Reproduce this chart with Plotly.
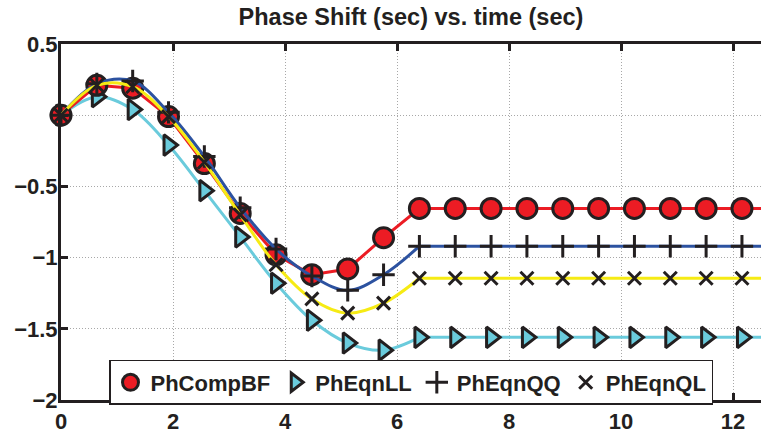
import plotly.graph_objects as go

# Sample times (sec) and phase shift (sec) for each method
t = [0.0, 0.64, 1.28, 1.92, 2.56, 3.2, 3.84, 4.48, 5.12, 5.76, 6.4,
     7.04, 7.68, 8.32, 8.96, 9.6, 10.24, 10.88, 11.52, 12.16, 12.57]

ph_comp_bf = [0.0, 0.21, 0.19, -0.01, -0.34, -0.69, -0.98, -1.12, -1.08, -0.86, -0.655,
              -0.655, -0.655, -0.655, -0.655, -0.655, -0.655, -0.655, -0.655, -0.655, -0.655]
ph_eqn_ll = [0.0, 0.13, 0.04, -0.21, -0.53, -0.855, -1.18, -1.44, -1.60, -1.65, -1.56,
             -1.56, -1.56, -1.56, -1.56, -1.56, -1.56, -1.56, -1.56, -1.56, -1.56]
ph_eqn_qq = [0.0, 0.22, 0.24, 0.02, -0.29, -0.65, -0.94, -1.13, -1.23, -1.12, -0.92,
             -0.92, -0.92, -0.92, -0.92, -0.92, -0.92, -0.92, -0.92, -0.92, -0.92]
ph_eqn_ql = [0.0, 0.21, 0.20, -0.01, -0.33, -0.70, -1.05, -1.29, -1.39, -1.32, -1.145,
             -1.145, -1.145, -1.145, -1.145, -1.145, -1.145, -1.145, -1.145, -1.145, -1.145]

y_tick_vals = [-2, -1.5, -1, -0.5, 0, 0.5]
y_tick_text = ["\u22122", "\u22121.5", "\u22121", "\u22120.5", "", "0.5"]
x_tick_vals = [0, 2, 4, 6, 8, 10, 12]

INK = "#231F20"
RED = "#EC1C24"
CYAN = "#6ACBDC"
BLUE = "#2C52A0"
YELLOW = "#F6EB14"
FONT = "Liberation Sans"

SETTLE = 10  # index where every curve reaches its steady value
X_MAX = 12.5  # visible end of the time axis

fig = go.Figure()


def add_curve(y, color, smooth):
    """Draw one series' line: smooth transient part, straight steady part."""
    if smooth:
        fig.add_trace(go.Scatter(x=t[:SETTLE + 1], y=y[:SETTLE + 1], mode="lines",
                                 line=dict(color=color, width=3, shape="spline", smoothing=1),
                                 showlegend=False, hoverinfo="skip"))
        fig.add_trace(go.Scatter(x=t[SETTLE:], y=y[SETTLE:], mode="lines",
                                 line=dict(color=color, width=3),
                                 showlegend=False, hoverinfo="skip"))
    else:
        fig.add_trace(go.Scatter(x=t, y=y, mode="lines",
                                 line=dict(color=color, width=3),
                                 showlegend=False, hoverinfo="skip"))


def add_marks(y, name, rank, marker):
    inside = [i for i, v in enumerate(t) if v <= X_MAX]
    beyond = [i for i, v in enumerate(t) if v > X_MAX]
    # samples inside the axis may spill over its edges
    fig.add_trace(go.Scatter(x=[t[i] for i in inside], y=[y[i] for i in inside],
                             mode="markers", name=name, legendrank=rank,
                             marker=marker, cliponaxis=False))
    # the final sample sits on the right edge and is cut by the plot area
    fig.add_trace(go.Scatter(x=[t[i] for i in beyond], y=[y[i] for i in beyond],
                             mode="markers", showlegend=False, hoverinfo="skip",
                             marker=marker, cliponaxis=True))


# PhEqnLL (drawn first so the circles sit above its start)
add_curve(ph_eqn_ll, CYAN, True)
add_marks(ph_eqn_ll, "PhEqnLL", 2,
          dict(symbol="triangle-right", size=18, color=CYAN, line=dict(color=INK, width=3)))

# PhCompBF
add_curve(ph_comp_bf, RED, False)
add_marks(ph_comp_bf, "PhCompBF", 1,
          dict(symbol="circle", size=20, color=RED, line=dict(color=INK, width=3)))

# PhEqnQQ
add_curve(ph_eqn_qq, BLUE, True)
add_marks(ph_eqn_qq, "PhEqnQQ", 3,
          dict(symbol="cross-thin", size=16, color=INK, line=dict(color=INK, width=3)))

# PhEqnQL
add_curve(ph_eqn_ql, YELLOW, True)
add_marks(ph_eqn_ql, "PhEqnQL", 4,
          dict(symbol="x-thin", size=13, color=INK, line=dict(color=INK, width=3)))

axis_common = dict(
    showline=True, linecolor=INK, linewidth=3,
    ticks="inside", ticklen=7, tickwidth=3, tickcolor=INK,
    showgrid=True, gridcolor="#a8a8a8", gridwidth=1, griddash="1px,2px",
    zeroline=False,
    tickfont=dict(family=FONT, size=22, color=INK, weight="bold"),
)

fig.update_xaxes(range=[0, X_MAX], tickvals=x_tick_vals, mirror="ticks", **axis_common)
fig.update_yaxes(range=[-2, 0.5], tickvals=y_tick_vals, ticktext=y_tick_text,
                 mirror=False, ticklabelstandoff=-4, **axis_common)

fig.update_layout(
    width=761, height=434,
    margin=dict(l=61, r=0, t=44, b=29),
    paper_bgcolor="white", plot_bgcolor="white",
    title=dict(text="Phase Shift (sec) vs. time (sec)", x=0.5, xref="paper",
               y=1 - 17 / 434, yref="container", yanchor="middle",
               font=dict(family=FONT, size=23.5, color=INK, weight="bold")),
    legend=dict(orientation="h", x=0.5, xanchor="center", y=-0.014, yanchor="bottom",
                bgcolor="white", bordercolor=INK, borderwidth=1.5,
                font=dict(family=FONT, size=22, color=INK, weight="bold"),
                itemsizing="trace"),
    showlegend=True,
)

fig.write_html("out.html")
